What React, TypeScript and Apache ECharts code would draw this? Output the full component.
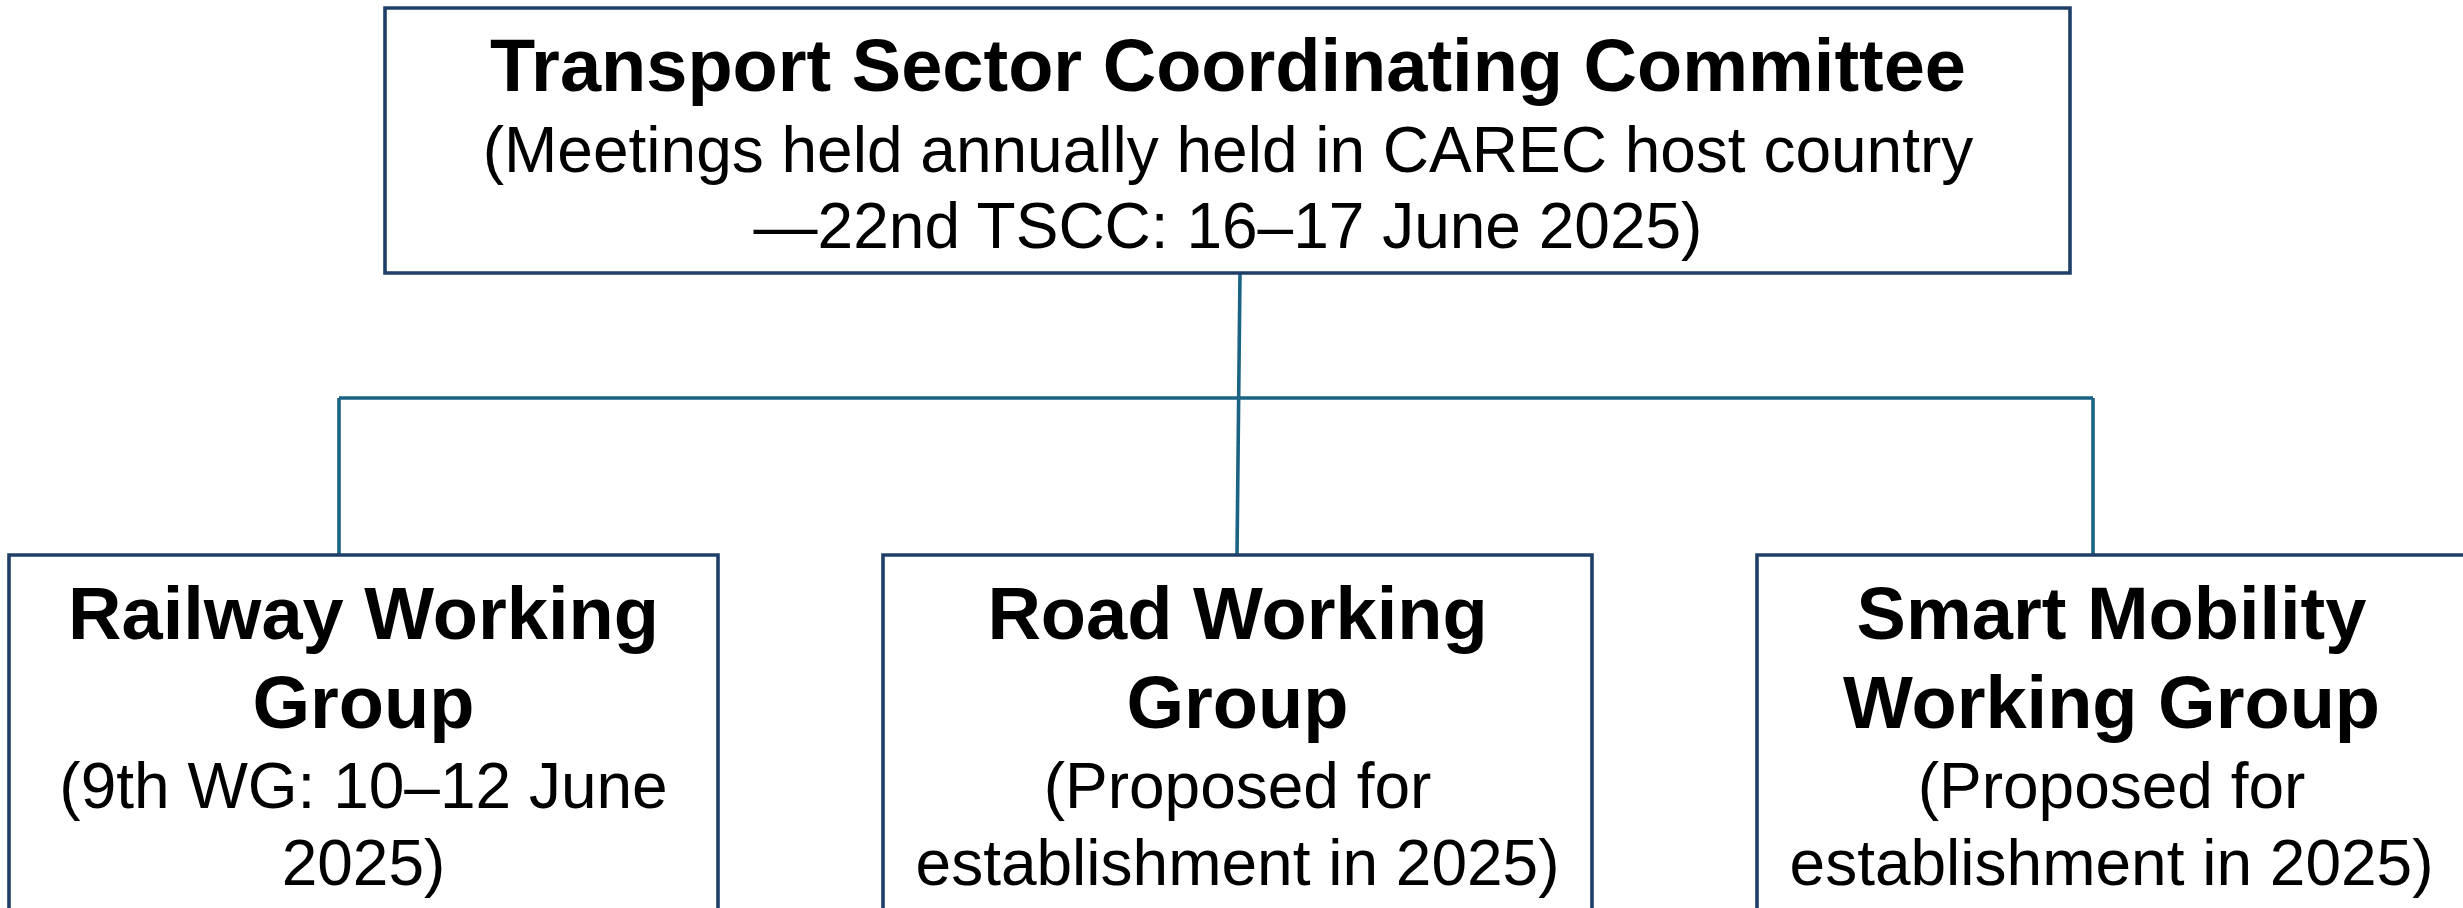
import React, { useEffect, useRef } from "react";
import * as echarts from "echarts";

// ---- content ----
const rootTitle = ["Transport Sector Coordinating Committee"];
const rootNotes = [
  "(Meetings held annually held in CAREC host country",
  "\u201422nd TSCC: 16\u201317 June 2025)",
];
const childTitles = [
  ["Railway Working", "Group"],
  ["Road Working", "Group"],
  ["Smart Mobility", "Working Group"],
];
const childNotes = [
  ["(9th WG: 10\u201312 June", "2025)"],
  ["(Proposed for", "establishment in 2025)"],
  ["(Proposed for", "establishment in 2025)"],
];

// ---- layout ----
const W = 2463;
const H = 908;
const FONT = "'Liberation Sans', Arial, Helvetica, sans-serif";
const BOX_STROKE = "#1E4068";
const LINK_STROKE = "#1B6384";
const ROOT_BOX = { x: 385, y: 8, w: 1685, h: 265 };
const ROOT_TEXT_X = 1228;
const CHILD_BOX_Y = 555;
const CHILD_BOX_W = 709;
const CHILD_BOX_H = 420;
const CHILD_BOX_X = [9, 883, 1757];
const CHILD_LINK_X = [339, 1237, 2093];
const BUS_Y = 398;
const LW = 3.6;

function middleFromBaseline(baseline: number, fs: number) {
  return baseline - 0.3465 * fs;
}

function textEl(text: string, x: number, baseline: number, fs: number, bold: boolean) {
  return {
    type: "text",
    z: 10,
    style: {
      text,
      x,
      y: middleFromBaseline(baseline, fs),
      fill: "#000000",
      font: `${bold ? "bold " : ""}${fs}px ${FONT}`,
      fontFamily: FONT,
      fontSize: fs,
      fontWeight: bold ? "bold" : "normal",
      textAlign: "center",
      textVerticalAlign: "middle",
      verticalAlign: "middle",
    },
  };
}

export default function App() {
  const ref = useRef<HTMLDivElement>(null);
  useEffect(() => {
    if (!ref.current) return;
    const chart = echarts.init(ref.current, undefined, { renderer: "svg", width: W, height: H });
    const elements: any[] = [];

    // root box
    elements.push({
      type: "rect",
      shape: { x: ROOT_BOX.x, y: ROOT_BOX.y, width: ROOT_BOX.w, height: ROOT_BOX.h },
      style: { fill: "#ffffff", stroke: BOX_STROKE, lineWidth: LW },
      z: 5,
    });
    const rootBase = [91];
    rootTitle.forEach((t, i) => elements.push(textEl(t, ROOT_TEXT_X, rootBase[i], 74, true)));
    const rootNoteBase = [172, 248];
    rootNotes.forEach((t, i) => elements.push(textEl(t, ROOT_TEXT_X, rootNoteBase[i], 64, false)));

    // connectors
    elements.push({
      type: "line",
      shape: { x1: 1240, y1: ROOT_BOX.y + ROOT_BOX.h, x2: CHILD_LINK_X[1], y2: CHILD_BOX_Y },
      style: { stroke: LINK_STROKE, lineWidth: LW },
      z: 3,
    });
    elements.push({
      type: "line",
      shape: { x1: CHILD_LINK_X[0], y1: BUS_Y, x2: CHILD_LINK_X[2], y2: BUS_Y },
      style: { stroke: LINK_STROKE, lineWidth: LW },
      z: 3,
    });
    [0, 2].forEach((i) =>
      elements.push({
        type: "line",
        shape: { x1: CHILD_LINK_X[i], y1: BUS_Y, x2: CHILD_LINK_X[i], y2: CHILD_BOX_Y },
        style: { stroke: LINK_STROKE, lineWidth: LW },
        z: 3,
      })
    );

    // child boxes
    childTitles.forEach((lines, i) => {
      const bx = CHILD_BOX_X[i];
      const cx = bx + CHILD_BOX_W / 2;
      elements.push({
        type: "rect",
        shape: { x: bx, y: CHILD_BOX_Y, width: CHILD_BOX_W, height: CHILD_BOX_H },
        style: { fill: "#ffffff", stroke: BOX_STROKE, lineWidth: LW },
        z: 5,
      });
      const tb = [639, 728];
      lines.forEach((t, j) => elements.push(textEl(t, cx, tb[j], 74, true)));
      const nb = [808, 885];
      childNotes[i].forEach((t, j) => elements.push(textEl(t, cx, nb[j], 64, false)));
    });

    chart.setOption({
      animation: false,
      backgroundColor: "#ffffff",
      graphic: { elements },
    });
    return () => chart.dispose();
  }, []);
  return (
    <div
      ref={ref}
      style={{ position: "fixed", left: 0, top: 0, width: W, height: H, background: "#fff" }}
    />
  );
}
